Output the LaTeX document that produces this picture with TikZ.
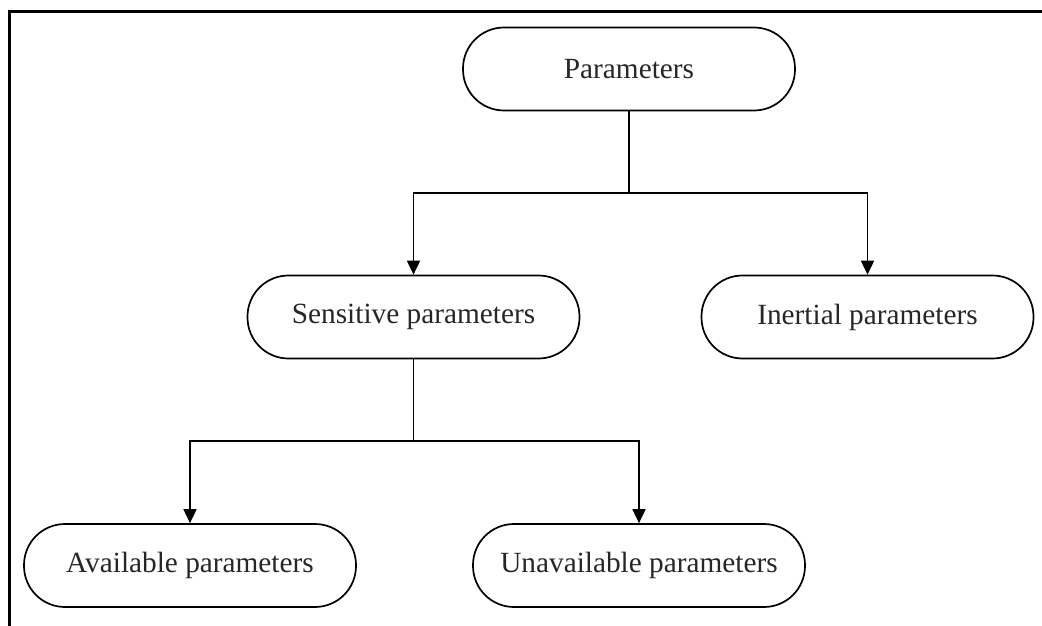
\documentclass[tikz,border=0pt]{standalone}
\usepackage{fontspec}
\setmainfont{Liberation Serif}
\usetikzlibrary{arrows.meta}
\begin{document}
\begin{tikzpicture}[x=1pt,y=-1pt,
  term/.style={draw, line width=1.7pt, rounded corners=41pt,
    minimum width=332pt, minimum height=83pt, inner sep=0pt,
    font=\fontsize{29.3}{33}\selectfont, text=black!85},
  link/.style={line width=1.8pt},
  arr/.style={link, -{Triangle[length=14pt,width=13pt]}}]
\useasboundingbox (0,0) rectangle (1042,626);
% open frame: top and left edges only
\draw[line width=3pt] (9.5,626) -- (9.5,12) -- (1042,12);

\node[term] (par) at (629,69)    {Parameters};
\node[term] (sen) at (413.5,317) {Sensitive parameters};
\node[term] (ine) at (867.5,317) {Inertial parameters};
\node[term] (ava) at (190,565.5) {Available parameters};
\node[term] (una) at (639,565.5) {Unavailable parameters};

% first level split
\coordinate (j1) at (629,193);
\draw[link] (par.south) -- (j1);
\draw[arr] (j1) -| (sen.north);
\draw[arr] (j1) -| (ine.north);

% second level split
\coordinate (j2) at (413.5,441);
\draw[link] (sen.south) -- (j2);
\draw[arr] (j2) -| (ava.north);
\draw[arr] (j2) -| (una.north);
\end{tikzpicture}
\end{document}
